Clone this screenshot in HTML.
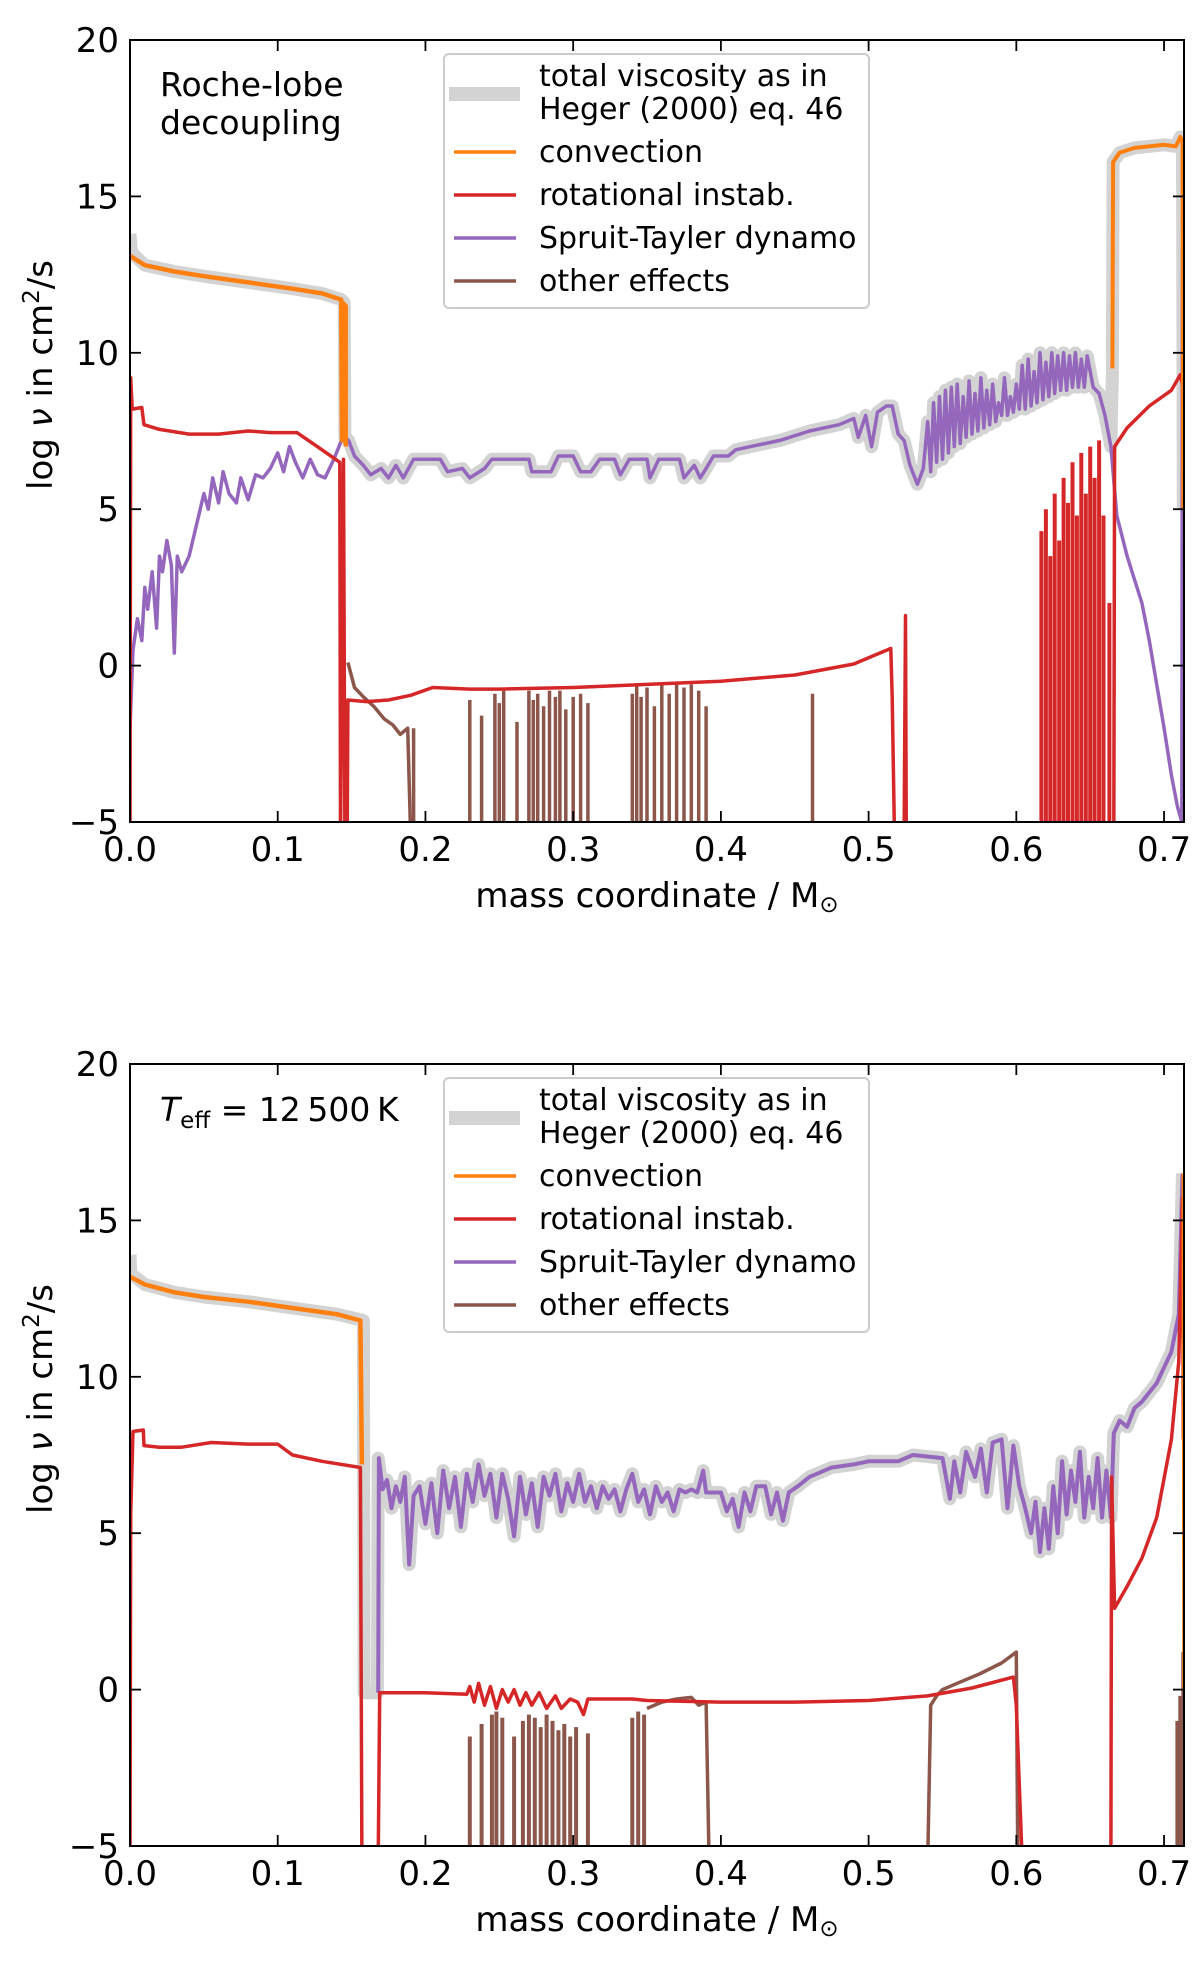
<!DOCTYPE html>
<html><head><meta charset="utf-8">
<style>
html,body{margin:0;padding:0;background:#fff;}
svg{display:block;font-family:"DejaVu Sans","Liberation Sans",sans-serif;}
</style></head>
<body>
<svg id="fig" width="1200" height="1961" viewBox="0 0 1200 1961" xmlns="http://www.w3.org/2000/svg"></svg>
<script>
// ---- data (mass coordinate, log nu) ----
const xTicks = [0.0,0.1,0.2,0.3,0.4,0.5,0.6,0.7];
const xTickLabels = ["0.0","0.1","0.2","0.3","0.4","0.5","0.6","0.7"];
const yTicks = [-5,0,5,10,15,20];
const yTickLabels = ["\u22125","0","5","10","15","20"];
const legendLabels = ["convection","rotational instab.","Spruit-Tayler dynamo","other effects"];

// Panel 1: Roche-lobe decoupling
const p1Conv = [[0,13.1],[0.01,12.8],[0.03,12.6],[0.05,12.45],[0.08,12.25],[0.11,12.05],[0.13,11.9],[0.143,11.7],[0.1435,7.2],[0.144,11.6],[0.146,11.5],[0.146,7.0]];
const p1Conv2 = [[0.665,9.5],[0.6655,16.1],[0.67,16.4],[0.68,16.55],[0.7,16.65],[0.708,16.6],[0.711,16.9],[0.7125,16.7],[0.713,5]];
const p1Red = [[0,-5.5],[0.0005,9.2],[0.0015,8.2],[0.008,8.25],[0.0095,7.7],[0.02,7.55],[0.04,7.4],[0.06,7.4],[0.08,7.5],[0.095,7.45],[0.113,7.45],[0.13,6.9],[0.142,6.5],[0.1425,-5.5],[0.1445,6.6],[0.1455,-5.5],[0.147,-5.5],[0.1475,-1.1],[0.16,-1.15],[0.175,-1.1],[0.19,-0.95],[0.205,-0.7],[0.23,-0.75],[0.25,-0.75],[0.3,-0.7],[0.35,-0.6],[0.4,-0.5],[0.45,-0.3],[0.49,0.05],[0.515,0.55],[0.516,-1.0],[0.5175,-5.5],[0.524,-5.5],[0.525,1.6],[0.5255,-5.5]];
const p1Red2 = [[0.666,-5.5],[0.6665,7.0],[0.675,7.6],[0.69,8.3],[0.705,8.8],[0.711,9.3],[0.7125,9.0],[0.713,5.5]];
const p1RedSpikeX = [0.617,0.62,0.623,0.626,0.629,0.632,0.635,0.638,0.641,0.644,0.647,0.65,0.653,0.656,0.659,0.663];
const p1RedSpikeY = [4.3,5.0,3.5,5.5,4.0,6.0,5.2,6.5,4.8,6.8,5.5,7.0,6.0,7.2,4.8,2.0];
const p1Purple = [[0,-2],[0.002,0.5],[0.005,1.5],[0.008,0.8],[0.01,2.5],[0.012,1.8],[0.015,3],[0.018,1.2],[0.02,3.5],[0.022,3],[0.025,4],[0.028,3.2],[0.03,0.4],[0.032,3.5],[0.035,3],[0.04,3.5],[0.045,4.5],[0.05,5.5],[0.053,5],[0.056,6],[0.06,5.2],[0.063,6.2],[0.067,5.5],[0.072,5.2],[0.075,6],[0.08,5.3],[0.085,6.1],[0.09,6],[0.095,6.3],[0.1,6.8],[0.104,6.2],[0.108,7],[0.112,6.5],[0.117,6],[0.122,6.6],[0.127,6.1],[0.132,6.0],[0.138,6.6],[0.144,7.3],[0.148,7.2],[0.152,6.7],[0.158,6.4],[0.163,6.1],[0.17,6.3],[0.175,6.0],[0.18,6.4],[0.185,6.0],[0.192,6.6],[0.21,6.6],[0.215,6.2],[0.225,6.3],[0.23,6.0],[0.24,6.3],[0.245,6.6],[0.27,6.6],[0.272,6.2],[0.285,6.2],[0.29,6.7],[0.3,6.7],[0.305,6.2],[0.312,6.2],[0.318,6.6],[0.328,6.6],[0.332,6.1],[0.338,6.6],[0.35,6.6],[0.352,6.0],[0.358,6.6],[0.372,6.6],[0.375,6.0],[0.382,6.4],[0.386,6.0],[0.39,6.3],[0.395,6.7],[0.405,6.7],[0.41,6.9],[0.42,7.0],[0.44,7.2],[0.46,7.5],[0.48,7.7],[0.49,7.9],[0.493,7.3],[0.498,8.0],[0.502,7.0],[0.506,8.1],[0.512,8.3],[0.516,8.3],[0.52,7.4],[0.524,7.2],[0.528,6.4],[0.533,5.8],[0.537,6.3],[0.54,7.8],[0.542,6.2],[0.544,8.4],[0.546,6.5],[0.548,8.6],[0.55,6.6],[0.552,8.8],[0.554,6.8],[0.556,8.9],[0.558,7.0],[0.56,9.0],[0.562,7.1],[0.564,8.6],[0.566,7.3],[0.568,9.1],[0.57,7.4],[0.572,8.7],[0.574,7.5],[0.576,9.2],[0.578,7.6],[0.58,8.8],[0.582,7.7],[0.584,9.0],[0.586,7.8],[0.588,8.4],[0.59,8.0],[0.592,9.2],[0.594,8.0],[0.596,8.6],[0.598,8.1],[0.6,9.0],[0.602,8.2],[0.604,9.6],[0.606,8.2],[0.608,9.8],[0.61,8.3],[0.612,9.4],[0.614,8.4],[0.616,10.0],[0.618,8.5],[0.62,9.7],[0.622,8.6],[0.624,10.0],[0.626,8.7],[0.628,9.9],[0.63,8.8],[0.632,10.0],[0.634,8.8],[0.636,9.9],[0.638,8.9],[0.64,10.0],[0.642,8.9],[0.644,9.8],[0.646,8.9],[0.648,9.9],[0.652,8.9],[0.656,8.7],[0.66,8.0],[0.664,7.0],[0.668,4.8],[0.675,3.5],[0.685,2.0],[0.69,0.8],[0.695,-0.6],[0.7,-2.0],[0.705,-3.5],[0.709,-4.5],[0.712,-5],[0.7125,13.3],[0.713,11]];
const p1BrownLine = [[0.1475,0.1],[0.152,-0.7],[0.158,-1.0],[0.165,-1.3],[0.172,-1.7],[0.178,-1.9],[0.183,-2.2],[0.188,-2.0],[0.19,-5.5]];
const p1BrownSpikeX = [0.192,0.23,0.238,0.247,0.25,0.253,0.262,0.27,0.273,0.276,0.28,0.284,0.288,0.291,0.295,0.3,0.305,0.31,0.34,0.343,0.346,0.35,0.355,0.36,0.365,0.37,0.375,0.38,0.385,0.39,0.462];
const p1BrownSpikeY = [-2.0,-1.1,-1.6,-0.9,-1.2,-0.8,-1.8,-0.8,-1.1,-0.9,-1.3,-0.8,-1.0,-0.8,-1.4,-1.0,-0.9,-1.2,-0.9,-0.6,-1.0,-0.7,-1.3,-0.6,-0.9,-0.6,-0.7,-0.6,-0.8,-1.3,-0.9];

// Panel 2: Teff = 12500 K
const p2Conv = [[0,13.2],[0.01,12.95],[0.03,12.7],[0.05,12.55],[0.08,12.4],[0.11,12.2],[0.14,12.0],[0.156,11.8],[0.157,7.2]];
const p2Conv2 = [[0.7125,16.5],[0.713,0]];
const p2Red = [[0,-5.5],[0.0005,5.6],[0.002,8.25],[0.009,8.3],[0.0095,7.8],[0.02,7.75],[0.035,7.75],[0.055,7.9],[0.08,7.85],[0.1,7.85],[0.11,7.5],[0.13,7.3],[0.156,7.1],[0.157,-5.5],[0.168,-5.5],[0.169,-0.1],[0.2,-0.1],[0.228,-0.15],[0.23,0.1],[0.233,-0.4],[0.236,0.2],[0.24,-0.5],[0.244,0.1],[0.248,-0.6],[0.252,0.0],[0.256,-0.4],[0.26,0.0],[0.264,-0.5],[0.268,-0.1],[0.272,-0.5],[0.277,-0.1],[0.282,-0.6],[0.288,-0.2],[0.292,-0.6],[0.298,-0.3],[0.303,-0.4],[0.307,-0.8],[0.31,-0.3],[0.34,-0.3],[0.35,-0.35],[0.4,-0.4],[0.45,-0.4],[0.5,-0.35],[0.54,-0.2],[0.57,0.05],[0.598,0.4],[0.6,-0.5],[0.604,-5.5],[0.664,-5.5],[0.6645,6.8],[0.6665,2.6],[0.675,3.3],[0.685,4.2],[0.695,5.5],[0.705,8.0],[0.71,10.5],[0.7125,15.7],[0.713,8]];
const p2Purple = [[0.168,-0.1],[0.1685,7.4],[0.171,6.4],[0.174,6.7],[0.177,5.8],[0.18,6.5],[0.183,6.0],[0.186,6.8],[0.189,4.0],[0.192,6.2],[0.196,6.5],[0.2,5.3],[0.204,6.6],[0.208,5.0],[0.212,7.0],[0.216,5.8],[0.22,6.8],[0.224,5.2],[0.228,6.9],[0.232,6.0],[0.236,7.2],[0.24,6.2],[0.244,6.9],[0.248,5.5],[0.252,6.9],[0.256,6.1],[0.26,4.9],[0.264,6.8],[0.268,5.6],[0.272,6.6],[0.276,5.2],[0.28,6.8],[0.284,6.2],[0.288,6.9],[0.292,5.7],[0.296,6.6],[0.3,6.0],[0.304,6.9],[0.308,6.0],[0.312,6.5],[0.316,5.8],[0.32,6.5],[0.324,6.1],[0.328,6.4],[0.332,5.7],[0.336,6.4],[0.34,6.9],[0.344,6.0],[0.348,6.4],[0.352,5.6],[0.356,6.5],[0.36,6.0],[0.364,6.3],[0.368,5.7],[0.372,6.4],[0.376,6.3],[0.38,6.4],[0.384,6.3],[0.388,7.0],[0.39,6.3],[0.4,6.3],[0.404,5.7],[0.408,6.1],[0.412,5.2],[0.416,6.3],[0.42,5.7],[0.424,6.5],[0.43,6.5],[0.434,5.6],[0.438,6.3],[0.442,5.4],[0.446,6.3],[0.452,6.5],[0.46,6.8],[0.465,6.9],[0.47,7.0],[0.475,7.1],[0.49,7.2],[0.5,7.3],[0.52,7.3],[0.53,7.5],[0.55,7.4],[0.555,6.1],[0.558,7.3],[0.562,6.3],[0.566,7.6],[0.572,6.8],[0.576,7.7],[0.58,6.3],[0.584,7.9],[0.59,8.0],[0.594,5.8],[0.598,7.8],[0.602,6.5],[0.606,5.8],[0.61,5.0],[0.613,6.0],[0.616,4.4],[0.619,5.8],[0.622,4.5],[0.625,6.5],[0.628,5.0],[0.631,7.3],[0.634,5.6],[0.637,7.0],[0.64,6.0],[0.643,7.6],[0.646,5.5],[0.649,6.8],[0.652,5.8],[0.655,7.4],[0.658,5.5],[0.661,7.0],[0.664,5.5],[0.666,8.2],[0.67,8.6],[0.675,8.4],[0.68,9.0],[0.685,9.2],[0.69,9.5],[0.695,9.8],[0.7,10.3],[0.705,10.8],[0.71,12.0],[0.7125,16.5]];
const p2Total = [[0,13.9],[0.0005,13.3],[0.01,12.95],[0.03,12.7],[0.05,12.55],[0.08,12.4],[0.11,12.2],[0.14,12.0],[0.158,11.8],[0.1585,-0.1],[0.1675,-0.1],[0.168,7.4]];
const p2BrownSpikeX = [0.23,0.238,0.245,0.248,0.252,0.26,0.266,0.27,0.274,0.278,0.282,0.286,0.29,0.294,0.298,0.302,0.31,0.34,0.344,0.348,0.709,0.711,0.713];
const p2BrownSpikeY = [-1.5,-1.1,-0.8,-0.7,-0.9,-1.5,-1.0,-0.8,-0.9,-1.2,-0.8,-1.0,-1.3,-1.1,-1.5,-1.2,-1.4,-0.9,-0.7,-0.8,-1.0,-0.2,1.2];
const p2BrownLine = [[0.35,-0.6],[0.36,-0.4],[0.37,-0.3],[0.38,-0.25],[0.385,-0.5],[0.39,-0.4],[0.392,-5.5]];
const p2BrownLine2 = [[0.54,-5.5],[0.542,-0.5],[0.546,-0.2],[0.55,0.0],[0.56,0.2],[0.575,0.5],[0.59,0.85],[0.6,1.2],[0.601,-5.5]];

// ---- drawing ----
const NS = "http://www.w3.org/2000/svg";
const svg = document.getElementById("fig");
const X0 = 130, X1 = 1184, XMIN = 0, XMAX = 0.7135;
const YMIN = -5, YMAX = 20, PH = 782;
function sx(v){ return X0 + (v - XMIN) / (XMAX - XMIN) * (X1 - X0); }
function mk(tag, attrs, parent){ const e = document.createElementNS(NS, tag); for (const k in attrs) e.setAttribute(k, attrs[k]); (parent||svg).appendChild(e); return e; }
const C = {gray:"#d3d3d3", orange:"#ff7f0e", red:"#d62728", purple:"#9467bd", brown:"#8c564b"};

function panel(top, idx){
  const g = mk("g", {});
  
  
  const sy = v => top + (YMAX - v) / (YMAX - YMIN) * PH;
  const clipId = "clip" + idx;
  const cp = mk("clipPath", {id: clipId}, g);
  mk("rect", {x: X0, y: top, width: X1 - X0, height: PH}, cp);
  const plot = mk("g", {"clip-path": "url(#" + clipId + ")"}, g);
  
  
  return {g, sy, plot, top};
}
function line(P, pts, color, w, name){
  const d = pts.map((p,i) => (i ? "L" : "M") + sx(p[0]).toFixed(1) + " " + P.sy(p[1]).toFixed(1)).join("");
  const e = mk("path", {d, fill: "none", stroke: color, "stroke-width": w, "stroke-linejoin": "round"}, P.plot);
  
  
  return e;
}
function spikes(P, xs, ys, color, w, name){
  let d = "";
  for (let i = 0; i < xs.length; i++) d += "M" + sx(xs[i]).toFixed(1) + " " + P.sy(-5.5).toFixed(1) + "L" + sx(xs[i]).toFixed(1) + " " + P.sy(ys[i]).toFixed(1);
  const e = mk("path", {d, fill: "none", stroke: color, "stroke-width": w}, P.plot);
  
  
}
function axes(P, idx){
  const g = P.g, top = P.top, sy = P.sy;
  const fr = mk("rect", {x: X0, y: top, width: X1 - X0, height: PH, fill: "none", stroke: "#000", "stroke-width": 2}, g);
  
  
  xTicks.forEach((t, i) => {
    const x = sx(t);
    mk("line", {x1: x, x2: x, y1: top + PH, y2: top + PH - 11, stroke: "#000", "stroke-width": 1.8}, g);
    mk("line", {x1: x, x2: x, y1: top, y2: top + 11, stroke: "#000", "stroke-width": 1.8}, g);
    const tx = mk("text", {x: x, y: top + PH + 39, "font-size": 34, "text-anchor": "middle"}, g);
    tx.textContent = xTickLabels[i];
    
    
  });
  yTicks.forEach((t, i) => {
    const y = sy(t);
    mk("line", {x1: X0, x2: X0 + 11, y1: y, y2: y, stroke: "#000", "stroke-width": 1.8}, g);
    mk("line", {x1: X1, x2: X1 - 11, y1: y, y2: y, stroke: "#000", "stroke-width": 1.8}, g);
    const tx = mk("text", {x: 119, y: y + 12, "font-size": 34, "text-anchor": "end"}, g);
    tx.textContent = yTickLabels[i];
    
    
  });
  const xl = mk("text", {x: 657, y: top + PH + 85, "font-size": 34, "text-anchor": "middle"}, g);
  xl.innerHTML = 'mass coordinate / M<tspan font-size="23" dy="5">\u2299</tspan>';
  
  
  const yc = top + 335;
  const yl = mk("text", {x: 0, y: 0, "font-size": 34, "text-anchor": "middle", transform: "translate(52," + yc + ") rotate(-90)"}, g);
  yl.innerHTML = 'log <tspan font-style="italic">\u03bd</tspan> in cm<tspan font-size="23" dy="-13">2</tspan><tspan dy="13">/s</tspan>';
  
  

  // legend
  const lt = top + 14;
  const lg = mk("g", {}, g);
  
  
  mk("rect", {x: 444, y: lt, width: 425, height: 254, rx: 5, fill: "#fff", "fill-opacity": 0.85, stroke: "#cccccc", "stroke-width": 2}, lg);
  mk("line", {x1: 449, x2: 520, y1: lt + 40, y2: lt + 40, stroke: C.gray, "stroke-width": 14}, lg);
  const t1 = mk("text", {x: 539, y: lt + 32, "font-size": 30}, lg); t1.textContent = "total viscosity as in";
  
  
  const t2 = mk("text", {x: 539, y: lt + 65, "font-size": 30}, lg); t2.textContent = "Heger (2000) eq. 46";
  
  
  const cols = [C.orange, C.red, C.purple, C.brown];
  legendLabels.forEach((lab, i) => {
    const yy = lt + 98 + i * 43;
    mk("line", {x1: 454, x2: 516, y1: yy, y2: yy, stroke: cols[i], "stroke-width": 3.5}, lg);
    const t = mk("text", {x: 539, y: yy + 10, "font-size": 30}, lg);
    t.textContent = lab;
    
    
  });
}

// Panel 1
const P1 = panel(40, 1);
const p1Total = [[0,13.8],[0.001,13.2]].concat(p1Conv.slice(1,8)).concat([[0.145,11.6],[0.1455,7.3]]).concat(p1Purple.filter(p => p[0] >= 0.146 && p[0] <= 0.664)).concat([[0.665,9.5]]).concat(p1Conv2);
line(P1, p1Total, C.gray, 13, "total-viscosity-line-1");
line(P1, p1Purple, C.purple, 3.5, "spruit-tayler-line-1");
spikes(P1, p1BrownSpikeX, p1BrownSpikeY, C.brown, 3.5, "other-effects-spikes-1");
line(P1, p1BrownLine, C.brown, 3.5, "other-effects-line-1");
line(P1, p1Red, C.red, 3.5, "rotational-instab-line-1");
line(P1, p1Red2, C.red, 3.5, "rotational-instab-line-1b");
spikes(P1, p1RedSpikeX, p1RedSpikeY, C.red, 4, "rotational-instab-spikes-1");
line(P1, p1Conv, C.orange, 4.5, "convection-line-1");
line(P1, p1Conv2, C.orange, 4, "convection-line-1b");
axes(P1, 1);
const a1a = mk("text", {x: 160, y: 96, "font-size": 33}, P1.g); a1a.textContent = "Roche-lobe";


const a1b = mk("text", {x: 160, y: 134, "font-size": 33}, P1.g); a1b.textContent = "decoupling";



// Panel 2
const P2 = panel(1064, 2);
const p2TotalFull = p2Total.concat(p2Purple.slice(2));
line(P2, p2TotalFull, C.gray, 13, "total-viscosity-line-2");
line(P2, p2Purple, C.purple, 4, "spruit-tayler-line-2");
spikes(P2, p2BrownSpikeX, p2BrownSpikeY, C.brown, 4, "other-effects-spikes-2");
line(P2, p2BrownLine, C.brown, 3.5, "other-effects-line-2");
line(P2, p2BrownLine2, C.brown, 3.5, "other-effects-line-2b");
line(P2, p2Red, C.red, 3.5, "rotational-instab-line-2");
line(P2, p2Conv, C.orange, 4.5, "convection-line-2");
line(P2, p2Conv2, C.orange, 2, "convection-line-2b");
axes(P2, 2);
const a2 = mk("text", {x: 160, y: 1121, "font-size": 33}, P2.g);
a2.innerHTML = '<tspan font-style="italic">T</tspan><tspan font-size="23" dy="7">eff</tspan><tspan dy="-7"> = 12\u2009500\u2009K</tspan>';


</script>
</body></html>
